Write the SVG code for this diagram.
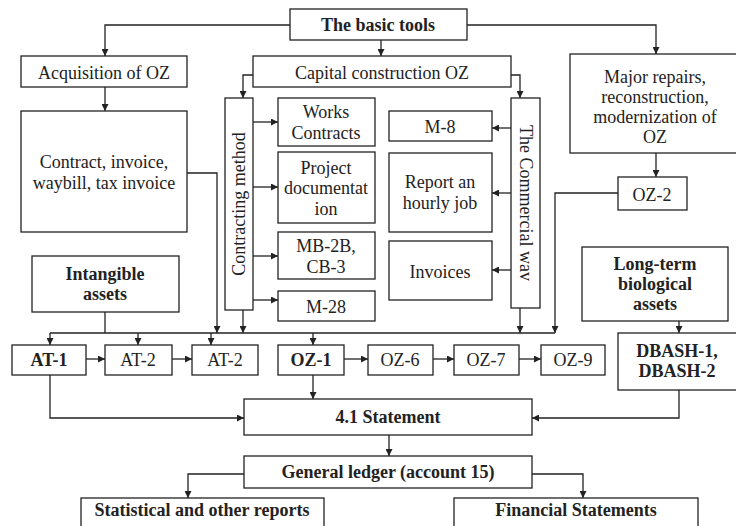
<svg xmlns="http://www.w3.org/2000/svg" width="736" height="526" viewBox="0 0 736 526" font-family="Liberation Serif, Times New Roman, serif">
<style>
.b{fill:#fff;stroke:#222;stroke-width:1.3}
.t{font-size:18px;fill:#222;text-anchor:middle}
.bd{font-weight:bold}
.c{fill:none;stroke:#222;stroke-width:1.3}
</style>
<defs>
<marker id="a" viewBox="0 0 10 10" refX="10" refY="5" markerWidth="7" markerHeight="7" markerUnits="userSpaceOnUse" orient="auto">
<path d="M0,0L10,5L0,10z" fill="#222"/>
</marker>
</defs>
<rect width="736" height="526" fill="#fff"/>
<g id="connectors" class="c" marker-end="url(#a)">
<path d="M290,25H105V56"/>
<path d="M467,25H656V54"/>
<path d="M381,40V56"/>
<path d="M105,87V111"/>
<path d="M253,75H243V98"/>
<path d="M511,75H520V98"/>
<path d="M253,122H278"/>
<path d="M253,187H278"/>
<path d="M253,256H278"/>
<path d="M253,300H278"/>
<path d="M511,128H492"/>
<path d="M511,193H492"/>
<path d="M511,270H492"/>
<path d="M656,153V177"/>
<path d="M187,173H217V333"/>
<path d="M243,310V333"/>
<path d="M520,308V333"/>
<path d="M618,193H555V333"/>
<path d="M105,312V333" marker-end="none"/>
<path d="M50,333H555" marker-end="none"/>
<path d="M50,333V345"/>
<path d="M138,333V345"/>
<path d="M211,333V345"/>
<path d="M313,333V345"/>
<path d="M679,321V333"/>
<path d="M86,359H105"/>
<path d="M172,359H192"/>
<path d="M344,359H368"/>
<path d="M433,359H454"/>
<path d="M519,359H541"/>
<path d="M313,375V399"/>
<path d="M50,375V418H244"/>
<path d="M679,390V418H532"/>
<path d="M389,435V456"/>
<path d="M244,474H188V498"/>
<path d="M532,474H583V498"/>
</g>
<g id="basic"><rect class="b" x="290" y="9" width="177" height="31"/><text class="t bd" x="378" y="31">The basic tools</text></g>
<g id="acq"><rect class="b" x="21" y="56" width="166" height="31"/><text class="t" x="104" y="79">Acquisition of OZ</text></g>
<g id="capital"><rect class="b" x="253" y="56" width="258" height="31"/><text class="t" x="382" y="79">Capital construction OZ</text></g>
<g id="major"><rect class="b" x="570" y="54" width="170" height="99"/><text class="t" x="655"><tspan x="655" y="83">Major repairs,</tspan><tspan x="655" y="103">reconstruction,</tspan><tspan x="655" y="123">modernization of</tspan><tspan x="655" y="143">OZ</tspan></text></g>
<g id="contract"><rect class="b" x="21" y="111" width="166" height="121"/><text class="t"><tspan x="104" y="168">Contract, invoice,</tspan><tspan x="104" y="189">waybill, tax invoice</tspan></text></g>
<g id="contracting"><rect class="b" x="225" y="98" width="28" height="212"/><text class="t" transform="translate(245,204) rotate(-90)" x="0" y="0">Contracting method</text></g>
<g id="works"><rect class="b" x="278" y="98" width="97" height="48"/><text class="t"><tspan x="326" y="118">Works</tspan><tspan x="326" y="139">Contracts</tspan></text></g>
<g id="project"><rect class="b" x="278" y="152" width="97" height="71"/><text class="t"><tspan x="326" y="174">Project</tspan><tspan x="326" y="194">documentat</tspan><tspan x="326" y="215">ion</tspan></text></g>
<g id="mb"><rect class="b" x="278" y="232" width="97" height="47"/><text class="t"><tspan x="326" y="252">MB-2B,</tspan><tspan x="326" y="273">CB-3</tspan></text></g>
<g id="m28"><rect class="b" x="278" y="291" width="97" height="30"/><text class="t" x="326" y="313">M-28</text></g>
<g id="commercial"><rect class="b" x="511" y="98" width="29" height="210"/><text class="t" transform="translate(520,203) rotate(90)" x="0" y="0">The Commercial wav</text></g>
<g id="m8"><rect class="b" x="389" y="111" width="103" height="30"/><text class="t" x="440" y="133">M-8</text></g>
<g id="report"><rect class="b" x="389" y="153" width="103" height="79"/><text class="t"><tspan x="440" y="188">Report an</tspan><tspan x="440" y="209">hourly job</tspan></text></g>
<g id="invoices"><rect class="b" x="389" y="241" width="103" height="59"/><text class="t" x="440" y="278">Invoices</text></g>
<g id="oz2"><rect class="b" x="618" y="177" width="69" height="33"/><text class="t" x="652" y="201">OZ-2</text></g>
<g id="intangible"><rect class="b" x="32" y="256" width="147" height="56"/><text class="t bd"><tspan x="105" y="280">Intangible</tspan><tspan x="105" y="300">assets</tspan></text></g>
<g id="longterm"><rect class="b" x="582" y="247" width="146" height="74"/><text class="t bd"><tspan x="655" y="270">Long-term</tspan><tspan x="655" y="290">biological</tspan><tspan x="655" y="310">assets</tspan></text></g>
<g id="at1"><rect class="b" x="12" y="345" width="74" height="30"/><text class="t bd" x="49" y="366">AT-1</text></g>
<g id="at2a"><rect class="b" x="105" y="345" width="67" height="30"/><text class="t" x="138" y="366">AT-2</text></g>
<g id="at2b"><rect class="b" x="192" y="345" width="66" height="30"/><text class="t" x="225" y="366">AT-2</text></g>
<g id="oz1"><rect class="b" x="278" y="345" width="66" height="30"/><text class="t bd" x="311" y="366">OZ-1</text></g>
<g id="oz6"><rect class="b" x="368" y="345" width="65" height="30"/><text class="t" x="400" y="366">OZ-6</text></g>
<g id="oz7"><rect class="b" x="454" y="345" width="65" height="30"/><text class="t" x="486" y="366">OZ-7</text></g>
<g id="oz9"><rect class="b" x="541" y="345" width="64" height="30"/><text class="t" x="573" y="366">OZ-9</text></g>
<g id="dbash"><rect class="b" x="618" y="333" width="122" height="57"/><text class="t bd"><tspan x="677" y="357">DBASH-1,</tspan><tspan x="677" y="377">DBASH-2</tspan></text></g>
<g id="statement"><rect class="b" x="244" y="399" width="288" height="36"/><text class="t bd" x="388" y="423">4.1 Statement</text></g>
<g id="ledger"><rect class="b" x="244" y="456" width="288" height="32"/><text class="t bd" x="388" y="478">General ledger (account 15)</text></g>
<g id="statistical"><rect class="b" x="81" y="498" width="243" height="40"/><text class="t bd" x="202" y="516">Statistical and other reports</text></g>
<g id="financial"><rect class="b" x="454" y="498" width="244" height="40"/><text class="t bd" x="576" y="516">Financial Statements</text></g>
</svg>
